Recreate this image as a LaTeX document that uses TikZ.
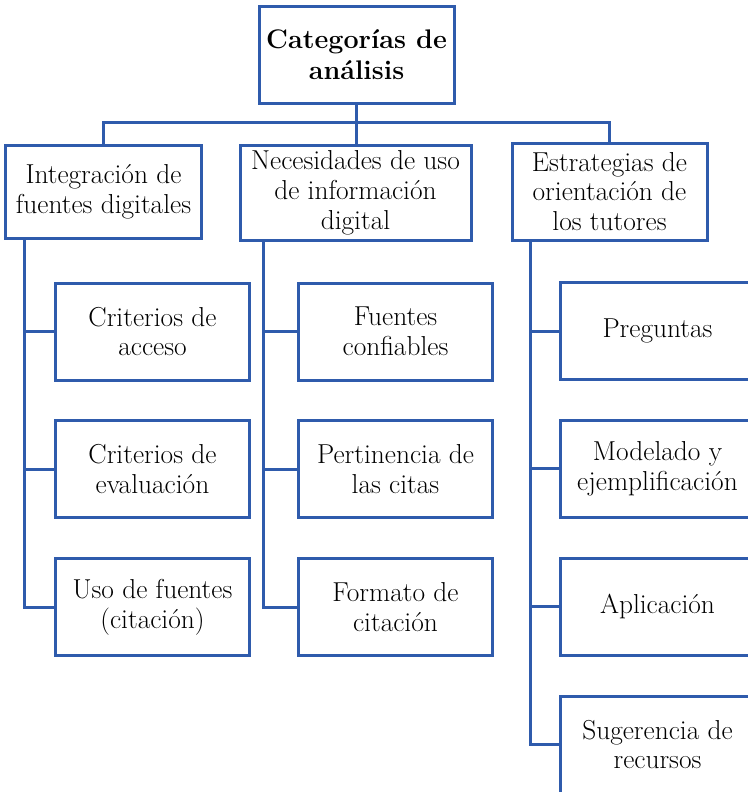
\documentclass[tikz,border=0pt]{standalone}
\usepackage{tikz}
\usepackage{amsmath}
\definecolor{catblue}{RGB}{47,91,172}
\tikzset{
  catbox/.style={draw=catblue, line width=3bp, fill=white, align=center,
    font=\fontsize{27.5}{30}\selectfont, inner sep=2bp},
  topbox/.style={catbox, minimum width=195bp, minimum height=96bp, font=\fontsize{27}{31}\selectfont\bfseries},
  subbox/.style={catbox, minimum width=194bp, minimum height=97bp},
  link/.style={draw=catblue, line width=3bp}
}
\begin{document}
\begin{tikzpicture}[x=1bp,y=-1bp]
  \useasboundingbox (0,0) rectangle (748,792);
  \clip (0,0) rectangle (748,792);
  \node[topbox] (root) at (356.5,55) {Categorías de\\análisis};
  \node[catbox, minimum width=195bp, minimum height=93bp] (int) at (103.5,191.5) {Integración de\\fuentes digitales};
  \node[catbox, minimum width=231bp, minimum height=95bp] (nec) at (355.5,192.5) {Necesidades de uso\\de información\\digital};
  \node[catbox, minimum width=195bp, minimum height=97bp] (est) at (609.5,191.5) {Estrategias de\\orientación de\\los tutores};
  \node[subbox] (acc) at (152.5,331.5) {Criterios de\\acceso};
  \node[subbox] (eva) at (152.5,469) {Criterios de\\evaluación};
  \node[subbox] (uso) at (152.5,607) {Uso de fuentes\\(citación)};
  \node[subbox] (con) at (395.5,331.5) {Fuentes\\confiables};
  \node[subbox] (per) at (395.5,469) {Pertinencia de\\las citas};
  \node[subbox] (for) at (395.5,607) {Formato de\\citación};
  \node[subbox] (pre) at (657.5,331) {Preguntas};
  \node[subbox] (mod) at (657.5,468.5) {Modelado y\\ejemplificación};
  \node[subbox] (apl) at (657.5,606.5) {Aplicación};
  \node[subbox] (sug) at (657.5,744.5) {Sugerencia de\\recursos};
  % bus from the root
  \draw[link] (root.south) -- (root.south |- nec.north);
  \draw[link] (int.north) -- ++(0,-21) -| (est.north);
  % spines
  \coordinate (ls) at ([xshift=20bp]int.south west);
  \coordinate (ms) at ([xshift=25bp]nec.south west);
  \coordinate (rs) at ([xshift=20bp]est.south west);
  \draw[link] (ls) |- (uso.west);
  \draw[link] (ls |- acc.west) -- (acc.west);
  \draw[link] (ls |- eva.west) -- (eva.west);
  \draw[link] (ms) |- (for.west);
  \draw[link] (ms |- con.west) -- (con.west);
  \draw[link] (ms |- per.west) -- (per.west);
  \draw[link] (rs) |- (sug.west);
  \draw[link] (rs |- pre.west) -- (pre.west);
  \draw[link] (rs |- mod.west) -- (mod.west);
  \draw[link] (rs |- apl.west) -- (apl.west);
\end{tikzpicture}
\end{document}
